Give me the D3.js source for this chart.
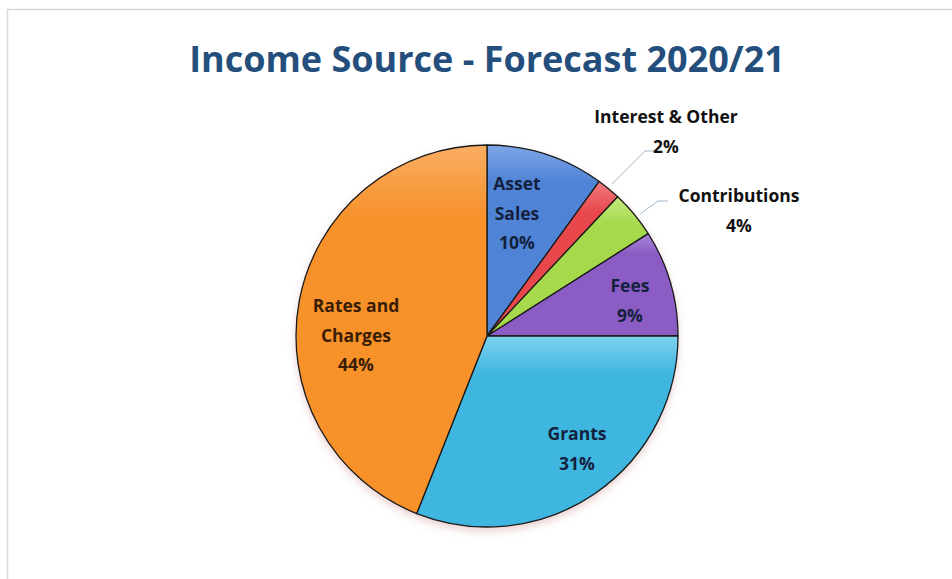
<!DOCTYPE html>
<html><head><meta charset="utf-8">
<script src="https://cdn.jsdelivr.net/npm/d3@7"></script>
<style>body{margin:0;background:#fff}svg{display:block}</style>
</head><body>
<svg id="c" width="952" height="579"></svg>
<script>
const categories = ["Asset Sales","Interest & Other","Contributions","Fees","Grants","Rates and Charges"];
const values = [10, 2, 4, 9, 31, 44];
const labelLines = [["Asset","Sales","10%"],["Interest & Other","2%"],["Contributions","4%"],["Fees","9%"],["Grants","31%"],["Rates and","Charges","44%"]];
const colors = ["#4f83d6","#e8484c","#a6d94c","#8a5cc4","#3fb6df","#f7912a"];
const lightColors = ["#7ea6e6","#f07a7c","#c4ea80","#a985d8","#7fd2ee","#f9ad62"];
const labelPos = [[517,184],[666,117],[739,196],[630,286],[577,434],[356,306]];
const leaders = [null,[[655,151],[645,151],[612,184]],[[668,201],[658,201],[640,214]],null,null,null];

const svg = d3.select("#c");
svg.append("rect").attr("x",7.5).attr("y",9.5).attr("width",1000).attr("height",1000)
  .attr("fill","#fff").attr("stroke","#d9d9d9").attr("stroke-width",1.5);

svg.append("text").attr("x",487).attr("y",72).attr("text-anchor","middle")
  .attr("font-family","'Open Sans', sans-serif").attr("font-weight",700)
  .attr("font-size",36).attr("fill","#244e7c").text("Income Source - Forecast 2020/21");

const defs = svg.append("defs");
colors.forEach((c,i)=>{
  const g = defs.append("linearGradient").attr("id","g"+i).attr("x1",0).attr("y1",0).attr("x2",0).attr("y2",1);
  g.append("stop").attr("offset","0%").attr("stop-color",lightColors[i]);
  g.append("stop").attr("offset","20%").attr("stop-color",c);
  g.append("stop").attr("offset","100%").attr("stop-color",c);
});
const f = defs.append("filter").attr("id","sh").attr("x","-20%").attr("y","-20%").attr("width","140%").attr("height","140%");
f.append("feDropShadow").attr("dx",0).attr("dy",4).attr("stdDeviation",4).attr("flood-color","#c07070").attr("flood-opacity",0.35);

const cx = 487, cy = 336, r = 191;
const pie = d3.pie().sort(null).value(d=>d);
const arc = d3.arc().innerRadius(0).outerRadius(r);
const arcs = pie(values);
const g = svg.append("g").attr("transform",`translate(${cx},${cy})`);
g.append("circle").attr("r",r).attr("fill","#fff").attr("filter","url(#sh)");
g.selectAll("path").data(arcs).join("path")
  .attr("d",arc).attr("fill",(d,i)=>`url(#g${i})`)
  .attr("stroke","#1a1a1a").attr("stroke-width",1.3).attr("stroke-linejoin","round");

leaders.forEach(l=>{
  if(!l) return;
  svg.append("path").attr("d",d3.line()(l)).attr("fill","none").attr("stroke","#9fb7cf").attr("stroke-width",1);
});

labelLines.forEach((lines,i)=>{
  const t = svg.append("text").attr("text-anchor","middle")
    .attr("font-family","'Open Sans', sans-serif").attr("font-weight",700)
    .attr("font-size",17.5).attr("fill", i===1||i===2 ? "#111" : (i===5?"#3a1d05":"#14213d"));
  lines.forEach((s,j)=>{
    t.append("tspan").attr("x",labelPos[i][0]).attr("y",labelPos[i][1]+6+j*29.5).text(s);
  });
});
</script>
</body></html>
